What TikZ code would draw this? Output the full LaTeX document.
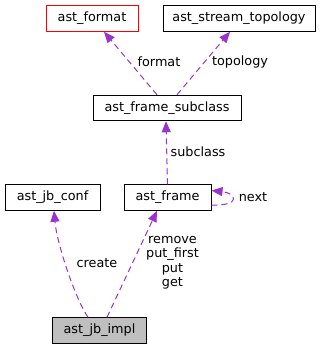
\documentclass[tikz,border=0pt]{standalone}
\usepackage{fontspec}
\setmainfont{DejaVu Sans}
\usetikzlibrary{arrows.meta}

\definecolor{edgepurple}{HTML}{9A32CD}
\definecolor{implgray}{HTML}{BFBFBF}

\tikzset{
  cls/.style={draw=black,line width=1pt,inner sep=0pt,minimum height=25.5pt,
    font=\fontsize{12.8}{14.5}\selectfont},
  uses/.style={edgepurple,line width=1pt,dash pattern=on 6pt off 4pt,
    -{Triangle[length=11pt,width=9pt]}},
  lbl/.style={font=\fontsize{12.8}{14.5}\selectfont,inner sep=0pt,align=center}
}

\begin{document}
\begin{tikzpicture}[x=1pt,y=-1pt]
  \useasboundingbox (0,0) rectangle (326,349);

  % classes
  \node[cls,draw=red,minimum width=92pt] (format) at (92,18.5) {ast\_format};
  \node[cls,minimum width=152pt] (topology) at (239,18.5) {ast\_stream\_topology};
  \node[cls,minimum width=148pt] (subclass) at (167,108) {ast\_frame\_subclass};
  \node[cls,minimum width=95pt] (jbconf) at (52.5,197.5) {ast\_jb\_conf};
  \node[cls,minimum width=87pt] (frame) at (167.5,197.5) {ast\_frame};
  \node[cls,fill=implgray,minimum width=94pt] (jbimpl) at (99.5,330.5) {ast\_jb\_impl};

  % member links
  \draw[uses] ([xshift=-10pt]subclass.north) -- ([xshift=12pt]format.south);
  \draw[uses] ([xshift=10pt]subclass.north) -- ([xshift=-9pt]topology.south);
  \draw[uses] (frame.north) -- ([xshift=-1pt]subclass.south);
  \draw[uses] ([yshift=-7.5pt]frame.east) .. controls (242,206) and (236,193) .. ([yshift=7pt]frame.east);
  \draw[uses] ([xshift=-11.5pt]jbimpl.north) .. controls (76,300) and (57,245) .. ([xshift=1.5pt]jbconf.south);
  \draw[uses] ([xshift=7.5pt]jbimpl.north) -- ([xshift=-10.5pt]frame.south);

  % link names
  \node[lbl] (lformat) at (159,62) {format};
  \node[lbl] (ltopology) at (240,62) {topology};
  \node[lbl] (lsubclass) at (198,152) {subclass};
  \node[lbl] (lnext) at (253,197) {next};
  \node[lbl] (lcreate) at (97,263) {create};
  \node[lbl] (lqueue) at (172.5,262.5) {remove\\put\_first\\put\\get};
\end{tikzpicture}
\end{document}
